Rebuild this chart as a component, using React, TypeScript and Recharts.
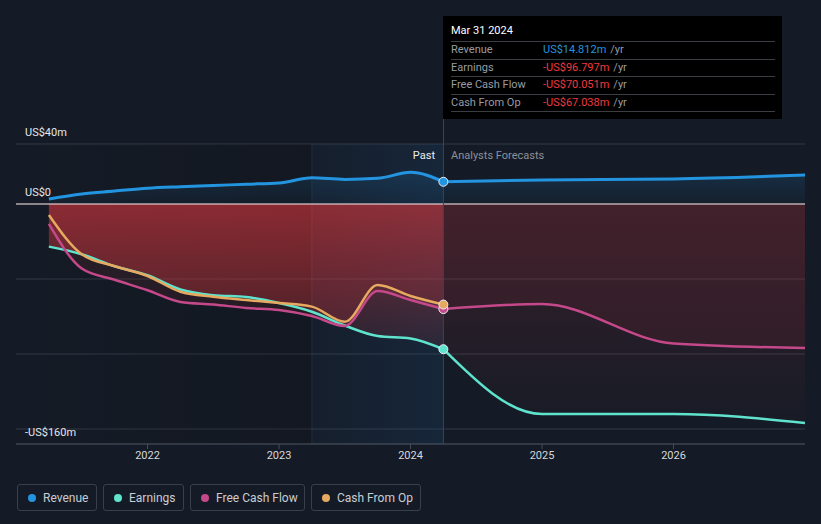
import React from 'react';
import {
  ComposedChart,
  Area,
  XAxis,
  YAxis,
  CartesianGrid,
  ReferenceArea,
  ReferenceLine,
  ReferenceDot,
} from 'recharts';

// ---- data ----
const pastT = [2021.25, 2021.5, 2021.75, 2022.0, 2022.25, 2022.5, 2022.75, 2023.0, 2023.25, 2023.5, 2023.75, 2024.0, 2024.25];
const revenuePast = [3.3, 6.7, 8.6, 10.5, 11.5, 12.3, 13.2, 14, 17.5, 16.4, 17.1, 21.1, 14.812];
const earningsPast = [-28.4, -33.5, -41.5, -47.5, -57, -60.8, -62, -66, -71.8, -81, -88, -89.6, -96.797];
const fcfPast = [-13.3, -43, -50.5, -57.5, -65.3, -67, -69.3, -70.7, -74.7, -81.3, -58, -64, -70.051];
const cfoPast = [-7.3, -33.5, -41.5, -48, -58.5, -61.8, -64, -66, -68.4, -78.5, -54, -61.3, -67.038];

const forecastT = [2024.25, 2025, 2026, 2027];
const revenueFc = [14.812, 16, 16.7, 19.3];
const earningsFc = [-96.797, -140, -140, -146];
const fcfFc = [-70.051, -66.7, -93, -96];

const xTicks = [2022, 2023, 2024, 2025, 2026];
const yGridTicks = [-160, -150, -100, -50, 0, 40];
const yLabelTicks = [40, 0, -160];

const pastStart = 2023.25;
const nowT = 2024.25;
const tooltipDate = 'Mar 31 2024';

const seriesInfo = [
  { name: 'Revenue', color: '#2394df' },
  { name: 'Earnings', color: '#5fe3cd' },
  { name: 'Free Cash Flow', color: '#c4488a' },
  { name: 'Cash From Op', color: '#e6a95f' },
];

// ---- build table ----
const allT = Array.from(new Set([...pastT, ...forecastT])).sort((a, b) => a - b);
const data = allT.map((t) => {
  const row: any = { t };
  const pi = pastT.indexOf(t);
  if (pi >= 0) {
    row.revPast = revenuePast[pi];
    row.earnPast = earningsPast[pi];
    row.fcfPast = fcfPast[pi];
    row.cfoPast = cfoPast[pi];
  }
  const fi = forecastT.indexOf(t);
  if (fi >= 0) {
    row.revFc = revenueFc[fi];
    row.earnFc = earningsFc[fi];
    row.fcfFc = fcfFc[fi];
  }
  return row;
});

const fmtAxis = (v: number) => (v < 0 ? `-US$${Math.abs(v)}m` : v === 0 ? 'US$0' : `US$${v}m`);
const fmtVal = (v: number) => (v < 0 ? `-US$${Math.abs(v).toFixed(3)}m` : `US$${v.toFixed(3)}m`);

const renderYTick = (props: any) => {
  const { y, payload } = props;
  const v = payload && payload.value;
  if (!yLabelTicks.includes(v)) return <g />;
  return (
    <text x={25} y={y - 12} fill="#e4e6ea" fontSize={11} dominantBaseline="central" fontFamily="Roboto, sans-serif">
      {fmtAxis(v)}
    </text>
  );
};

const last = pastT.length - 1;
const tooltipRows = [
  { label: 'Revenue', value: revenuePast[last], color: '#2394df' },
  { label: 'Earnings', value: earningsPast[last], color: '#f0393d' },
  { label: 'Free Cash Flow', value: fcfPast[last], color: '#f0393d' },
  { label: 'Cash From Op', value: cfoPast[last], color: '#f0393d' },
];
const legendWidths = [80, 81, 115, 110];

export default function App() {
  return (
    <div
      style={{
        position: 'absolute',
        left: 0,
        top: 0,
        width: 821,
        height: 524,
        background: '#151b26',
        overflow: 'hidden',
        fontFamily: 'Roboto, sans-serif',
      }}
    >
      <ComposedChart width={821} height={524} data={data} margin={{ top: 144, right: 16, left: 15, bottom: 50 }}>
        <defs>
          <linearGradient id="pastShade" x1="0" y1="0" x2="1" y2="0">
            <stop offset="0" stopColor="#000" stopOpacity={0} />
            <stop offset="1" stopColor="#000" stopOpacity={0.25} />
          </linearGradient>
          <linearGradient id="hiShade" x1="0" y1="0" x2="1" y2="0">
            <stop offset="0" stopColor="#1e6eb4" stopOpacity={0.08} />
            <stop offset="1" stopColor="#1e6eb4" stopOpacity={0.28} />
          </linearGradient>
          <linearGradient id="revFill" x1="0" y1="0" x2="0" y2="1">
            <stop offset="0" stopColor="#2394df" stopOpacity={0.25} />
            <stop offset="1" stopColor="#2394df" stopOpacity={0.06} />
          </linearGradient>
          <linearGradient id="earnPastFill" x1="0" y1="0" x2="0" y2="1">
            <stop offset="0" stopColor="#e0393e" stopOpacity={0.85} />
            <stop offset="1" stopColor="#e0393e" stopOpacity={0.15} />
          </linearGradient>
          <linearGradient id="earnFcFill" x1="0" y1="0" x2="0" y2="1">
            <stop offset="0" stopColor="#d8383d" stopOpacity={0.28} />
            <stop offset="1" stopColor="#d8383d" stopOpacity={0.02} />
          </linearGradient>
        </defs>
        <ReferenceArea x1={2021} x2={pastStart} y1={-160} y2={40} fill="url(#pastShade)" stroke="none" />
        <ReferenceArea x1={pastStart} x2={nowT} y1={-160} y2={40} fill="url(#hiShade)" stroke="none" />
        <CartesianGrid vertical={false} stroke="#323844" strokeWidth={1} />
        <XAxis
          type="number"
          dataKey="t"
          domain={[2021, 2027]}
          ticks={xTicks}
          allowDataOverflow
          height={30}
          stroke="#464c57"
          tickLine={{ stroke: '#464c57' }}
          tickSize={5}
          tick={{ fill: '#d6d8dc', fontSize: 11, fontFamily: 'Roboto, sans-serif' }}
        />
        <YAxis
          type="number"
          domain={[-160, 40]}
          ticks={yGridTicks}
          interval={0}
          allowDataOverflow
          width={1}
          axisLine={false}
          tickLine={false}
          tick={renderYTick}
        />
        <Area type="monotone" dataKey="revPast" stroke="#2394df" strokeWidth={3} fill="url(#revFill)" isAnimationActive={false} dot={false} activeDot={false} />
        <Area type="monotone" dataKey="revFc" stroke="#2394df" strokeWidth={3} fill="url(#revFill)" fillOpacity={0.6} isAnimationActive={false} dot={false} activeDot={false} />
        <Area type="monotone" dataKey="earnPast" stroke="none" fill="url(#earnPastFill)" isAnimationActive={false} dot={false} activeDot={false} />
        <Area type="monotone" dataKey="earnFc" stroke="none" fill="url(#earnFcFill)" isAnimationActive={false} dot={false} activeDot={false} />
        <Area type="monotone" dataKey="fcfPast" stroke="none" fill="#d8383d" fillOpacity={0.1} isAnimationActive={false} dot={false} activeDot={false} />
        <Area type="monotone" dataKey="fcfFc" stroke="none" fill="#d8383d" fillOpacity={0.08} isAnimationActive={false} dot={false} activeDot={false} />
        <Area type="monotone" dataKey="cfoPast" stroke="none" fill="#d8383d" fillOpacity={0.08} isAnimationActive={false} dot={false} activeDot={false} />
        <ReferenceLine y={0} stroke="#f4e4e4" strokeWidth={1.2} />
        <ReferenceLine x={pastStart} stroke="rgba(130,170,210,0.12)" strokeWidth={1} />
        <ReferenceLine x={nowT} stroke="#33475c" strokeWidth={1} />
        <Area type="monotone" dataKey="earnPast" stroke="#5fe3cd" strokeWidth={2.5} fill="none" isAnimationActive={false} dot={false} activeDot={false} />
        <Area type="monotone" dataKey="earnFc" stroke="#5fe3cd" strokeWidth={2.5} fill="none" isAnimationActive={false} dot={false} activeDot={false} />
        <Area type="monotone" dataKey="fcfPast" stroke="#c4488a" strokeWidth={2.5} fill="none" isAnimationActive={false} dot={false} activeDot={false} />
        <Area type="monotone" dataKey="fcfFc" stroke="#c4488a" strokeWidth={2.5} fill="none" isAnimationActive={false} dot={false} activeDot={false} />
        <Area type="monotone" dataKey="cfoPast" stroke="#e6a95f" strokeWidth={2.5} fill="none" isAnimationActive={false} dot={false} activeDot={false} />
        <ReferenceDot x={nowT} y={revenuePast[last]} r={4.5} fill="#2394df" stroke="#e8eef5" strokeWidth={1} />
        <ReferenceDot x={nowT} y={earningsPast[last]} r={4.5} fill="#5fe3cd" stroke="#e8eef5" strokeWidth={1} />
        <ReferenceDot x={nowT} y={fcfPast[last]} r={4.5} fill="#c4488a" stroke="#e8eef5" strokeWidth={1} />
        <ReferenceDot x={nowT} y={cfoPast[last]} r={4.5} fill="#e6a95f" stroke="#e8eef5" strokeWidth={1} />
      </ComposedChart>

      {/* divider extension up to the info box */}
      <div style={{ position: 'absolute', left: 443, top: 16, width: 1, height: 128, background: '#33475c' }} />

      {/* Past / Analysts Forecasts */}
      <div style={{ position: 'absolute', right: 821 - 435, top: 149, fontSize: 11, color: '#eceef1', lineHeight: '14px' }}>Past</div>
      <div style={{ position: 'absolute', left: 451, top: 149, fontSize: 11, color: '#8b9099', lineHeight: '14px' }}>Analysts Forecasts</div>

      {/* info box */}
      <div
        style={{
          position: 'absolute',
          left: 443,
          top: 16,
          width: 339,
          height: 103,
          background: '#000000',
          boxSizing: 'border-box',
          padding: '0 7px 0 8px',
        }}
      >
        <div style={{ fontSize: 11, color: '#ffffff', height: 25, lineHeight: '30px' }}>{tooltipDate}</div>
        {tooltipRows.map((r) => (
          <div
            key={r.label}
            style={{
              borderTop: '1px solid #3a3d42',
              height: 16.5,
              lineHeight: '16px',
              fontSize: 11,
              display: 'flex',
            }}
          >
            <span style={{ width: 92, color: '#979ca4' }}>{r.label}</span>
            <span style={{ color: r.color }}>{fmtVal(r.value)}</span>
            <span style={{ color: '#979ca4', marginLeft: 4 }}>/yr</span>
          </div>
        ))}
        <div style={{ borderTop: '1px solid #3a3d42' }} />
      </div>

      {/* legend */}
      <div style={{ position: 'absolute', left: 17, top: 484, display: 'flex', gap: 6 }}>
        {seriesInfo.map((s, i) => (
          <div
            key={s.name}
            style={{
              width: legendWidths[i],
              height: 27,
              boxSizing: 'border-box',
              border: '1px solid #3a404b',
              borderRadius: 3,
              display: 'flex',
              alignItems: 'center',
              paddingLeft: 10,
              fontSize: 12,
              color: '#c9cdd3',
            }}
          >
            <span style={{ width: 8, height: 8, borderRadius: 4, background: s.color, marginRight: 7, display: 'inline-block' }} />
            {s.name}
          </div>
        ))}
      </div>
    </div>
  );
}
